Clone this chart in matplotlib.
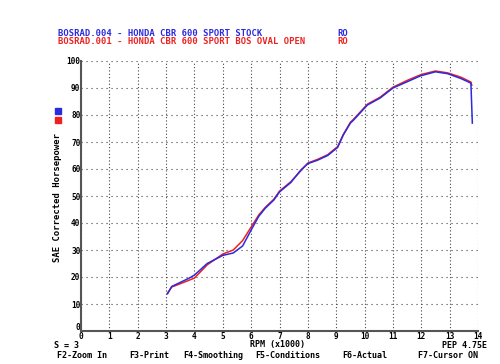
import matplotlib
matplotlib.use("Agg")
import matplotlib.pyplot as plt
import matplotlib.transforms as mtransforms
from matplotlib.patches import Rectangle

# dyno runs: rpm (x1000) vs SAE corrected hp
rpm_stock = [3.05, 3.2, 3.5, 3.8, 4.0, 4.45, 5.0, 5.37, 5.7, 6.0, 6.27, 6.5, 6.8,
             7.0, 7.4, 7.75, 8.0, 8.35, 8.7, 9.05, 9.25, 9.5, 9.6, 10.1, 10.55,
             11.0, 11.5, 11.97, 12.5, 12.93, 13.4, 13.75, 13.8]
hp_stock = [13.8, 16.5, 18.0, 19.5, 20.7, 25.0, 28.0, 28.9, 31.5, 37.4, 42.5, 45.5, 48.5,
            51.5, 55.0, 59.6, 62.0, 63.3, 65.0, 68.0, 72.6, 77.0, 78.0, 83.7, 86.3,
            90.0, 92.3, 94.5, 96.0, 95.3, 93.5, 91.8, 77.0]

rpm_oval = [3.05, 3.2, 3.5, 4.0, 4.45, 5.0, 5.37, 5.7, 6.0, 6.27, 6.5, 6.8,
            7.0, 7.4, 7.75, 8.0, 8.35, 8.7, 9.05, 9.25, 9.5, 9.6, 10.1, 10.55,
            11.0, 11.5, 12.0, 12.5, 12.93, 13.4, 13.75, 13.78]
hp_oval = [14.0, 16.3, 17.5, 19.6, 24.5, 28.5, 30.0, 33.5, 38.5, 43.0, 45.8, 48.8,
           51.8, 55.3, 59.3, 62.2, 63.6, 65.3, 68.3, 72.8, 77.3, 78.3, 84.0, 86.6,
           90.3, 92.8, 95.0, 96.3, 95.6, 94.0, 92.2, 91.0]

x_ticks = list(range(0, 15))
y_ticks = list(range(0, 101, 10))

titles = ["BOSRAD.004 - HONDA CBR 600 SPORT STOCK",
          "BOSRAD.001 - HONDA CBR 600 SPORT BOS OVAL OPEN"]
fkeys = ["F2-Zoom In", "F3-Print", "F4-Smoothing", "F5-Conditions", "F6-Actual", "F7-Cursor ON"]
fkey_x = [57, 129, 183, 255, 342, 418]

BLUE = "#2a2ae0"
RED = "#ee2020"
FONT = "DejaVu Sans Mono"
FS = 6.4
FS_TICK = 5.6
FS_ROW = 6.0
W, H = 500, 364


def fx(px):
    return px / W


def fy(py):
    return 1 - py / H


fig = plt.figure(figsize=(5, 3.64), dpi=100)
ax = fig.add_axes([fx(81), fy(331), fx(478) - fx(81), fy(61) - fy(331)])

ax.plot(rpm_oval, hp_oval, color=RED, lw=1.1)
ax.plot(rpm_stock, hp_stock, color=BLUE, lw=1.1)

ax.set_xlim(0, 14)
ax.set_ylim(0, 100)
ax.set_xticks(x_ticks)
ax.set_yticks(y_ticks)
ax.set_xticklabels([str(v) for v in x_ticks], fontsize=FS_TICK, fontweight="bold", family=FONT)
ax.set_yticklabels([str(v) for v in y_ticks], fontsize=FS_TICK, fontweight="bold", family=FONT)
ax.tick_params(axis="both", length=0, pad=0.5)
ax.xaxis.grid(True, color="#444444", linestyle=(0, (1, 2)), linewidth=0.8)
ax.yaxis.grid(True, color="#444444", linestyle=(0, (1, 3.5)), linewidth=0.8)
for side in ("top", "right"):
    ax.spines[side].set_visible(False)
for side in ("left", "bottom"):
    ax.spines[side].set_color("#555555")
    ax.spines[side].set_linewidth(1.5)

# the y "0" sits a little above the corner, clear of the x "0"
zero_lbl = ax.get_yticklabels()[0]
zero_lbl.set_transform(zero_lbl.get_transform()
                       + mtransforms.ScaledTranslation(0, 4 / 100, fig.dpi_scale_trans))

fig.text(fx(58), fy(197), "SAE Corrected Horsepower", fontsize=6.4, fontweight="bold",
         family=FONT, rotation=90, ha="center", va="center")

for i, (title, col) in enumerate(zip(titles, [BLUE, RED])):
    fig.text(fx(58), fy(33 + 9 * i), title, color=col, fontsize=FS,
             fontweight="bold", family=FONT, va="center")
    fig.text(fx(337), fy(33 + 9 * i), "RO", color=col, fontsize=FS,
             fontweight="bold", family=FONT, va="center")
    fig.patches.append(Rectangle((fx(55), fy(114 + 9 * i)), fx(6), 6 / H,
                                 transform=fig.transFigure, color=col))

fig.text(fx(54), fy(345), "S = 3", fontsize=FS_ROW, fontweight="bold", family=FONT, va="center")
fig.text(fx(250), fy(345), "RPM (x1000)", fontsize=FS_ROW, fontweight="bold", family=FONT, va="center")
fig.text(fx(487), fy(345), "PEP 4.75E", fontsize=FS_ROW, fontweight="bold", family=FONT,
         va="center", ha="right")
for label, px in zip(fkeys, fkey_x):
    fig.text(fx(px), fy(355), label, fontsize=FS_ROW, fontweight="bold", family=FONT, va="center")

fig.savefig("out.png", dpi=100, facecolor="white")
